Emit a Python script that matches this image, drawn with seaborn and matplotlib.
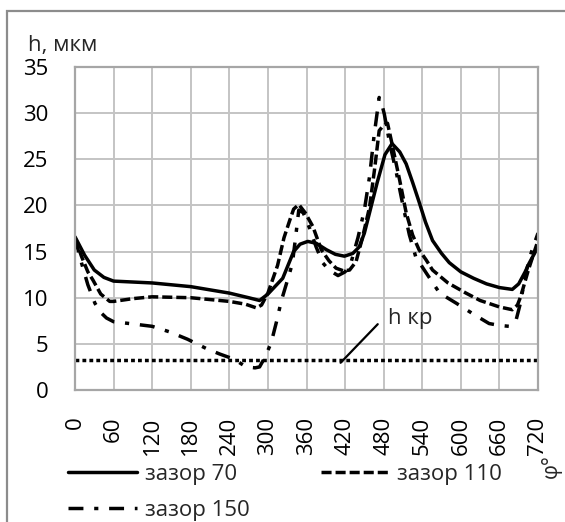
import matplotlib
matplotlib.use("Agg")
import matplotlib.pyplot as plt
import seaborn as sns
from matplotlib.patches import Rectangle

# ---- data ----
phi_70 = [0, 15, 30, 45, 60, 120, 180, 240, 270, 287, 300, 323, 340, 350, 362, 375, 391, 405,
          419, 432, 442, 450, 458, 470, 482, 493, 505, 515, 525, 535, 545, 556, 570, 582, 600,
          620, 640, 660, 680, 690, 700, 706, 720]
h_70 = [16.6, 14.6, 13.0, 12.2, 11.8, 11.6, 11.2, 10.5, 10.0, 9.7, 10.4, 12.1, 15.0, 15.8, 16.1,
        15.9, 15.2, 14.7, 14.5, 14.8, 15.5, 17.0, 19.2, 22.5, 25.5, 26.7, 25.8, 24.5, 22.5, 20.4,
        18.2, 16.2, 14.8, 13.8, 12.8, 12.1, 11.5, 11.1, 10.9, 11.5, 12.8, 13.7, 15.5]

phi_110 = [0, 10, 20, 28, 40, 54, 60, 90, 120, 180, 240, 265, 282, 290, 300, 315, 325, 334, 340,
           348, 358, 370, 383, 395, 406, 418, 427, 437, 447, 458, 466, 473, 480, 486, 492, 498,
           505, 515, 525, 535, 546, 556, 580, 608, 630, 660, 680, 688, 693, 705, 720]
h_110 = [16.5, 14.5, 12.8, 11.9, 10.4, 9.6, 9.6, 9.9, 10.1, 10.0, 9.6, 9.3, 8.9, 9.2, 10.5, 13.5,
         16.5, 18.4, 19.6, 20.1, 19.2, 17.7, 15.2, 14.0, 13.2, 12.9, 13.0, 13.9, 16.5, 19.8, 24.0,
         28.1, 28.7, 28.9, 27.0, 25.0, 22.7, 19.2, 16.8, 15.2, 14.1, 13.0, 11.6, 10.5, 9.7, 9.0,
         8.7, 9.2, 10.1, 13.0, 16.2]

phi_150 = [0, 10, 20, 31, 40, 49, 60, 85, 120, 147, 175, 204, 225, 241, 255, 266, 280, 287, 295,
           305, 313, 321, 330, 338, 343, 348, 355, 365, 375, 385, 395, 409, 420, 430, 440, 450,
           458, 465, 473, 477, 481, 490, 499, 510, 520, 530, 546, 567, 593, 620, 644, 660, 675,
           686, 693, 701, 710, 720]
h_150 = [16.5, 13.8, 11.4, 9.4, 8.4, 7.8, 7.4, 7.2, 6.9, 6.3, 5.5, 4.5, 3.9, 3.5, 3.0, 2.5, 2.4,
         2.5, 3.5, 5.1, 7.3, 9.7, 11.8, 13.7, 16.5, 19.5, 19.2, 17.5, 15.5, 13.8, 13.0, 12.4,
         12.8, 14.0, 16.5, 19.5, 23.1, 27.5, 31.7, 31.0, 29.9, 26.5, 23.8, 20.0, 16.8, 14.4,
         12.7, 10.5, 9.4, 8.2, 7.2, 7.0, 6.9, 7.6, 9.5, 12.7, 15.0, 17.0]

h_kr = 3.2
x_ticks = [0, 60, 120, 180, 240, 300, 360, 420, 480, 540, 600, 660, 720]
y_ticks = [0, 5, 10, 15, 20, 25, 30, 35]
series_labels = ["зазор 70", "зазор 110", "зазор 150"]

# ---- figure ----
sns.set_theme(style="white")
plt.rcParams["font.family"] = ["Open Sans", "DejaVu Sans"]

W, H = 565, 522
fig = plt.figure(figsize=(W / 100, H / 100), dpi=100)
L, R, T, B = 75, 538, 67, 390
ax = fig.add_axes([L / W, 1 - B / H, (R - L) / W, (B - T) / H])

fs = 16
lw = 2.5
sns.lineplot(x=phi_70, y=h_70, ax=ax, color="black", linewidth=lw, estimator=None,
             sort=False, label=series_labels[0], linestyle="-")
sns.lineplot(x=phi_110, y=h_110, ax=ax, color="black", linewidth=lw, estimator=None,
             sort=False, label=series_labels[1], linestyle=(0, (2.9, 1.15)))
sns.lineplot(x=phi_150, y=h_150, ax=ax, color="black", linewidth=lw, estimator=None,
             sort=False, label=series_labels[2], linestyle=(0, (4.3, 3.1, 1.2, 3.1)))
ax.plot([0, 720], [h_kr, h_kr], color="black", linewidth=lw, linestyle=(0, (1.1, 0.9)))

ax.set_xlim(0, 720)
ax.set_ylim(0, 35)
ax.set_xticks(x_ticks)
ax.set_yticks(y_ticks)
ax.set_xticklabels([str(v) for v in x_ticks], rotation=90, va="top", ha="center")
ax.tick_params(axis="both", length=0, labelsize=fs, colors="black")
ax.tick_params(axis="y", pad=19)
ax.tick_params(axis="x", pad=19)
ax.grid(True, color="#c4c4c4", linewidth=1.4)
ax.set_axisbelow(True)
for s in ax.spines.values():
    s.set_visible(True)
    s.set_color("#a6a6a6")
    s.set_linewidth(1.6)
ax.set_xlabel("")
ax.set_ylabel("")

# annotation h кр
ax.annotate("h кр", xy=(413, 2.95), xytext=(486, 7.7), fontsize=fs, va="center", ha="left",
            arrowprops=dict(arrowstyle="-", color="black", linewidth=1.6,
                            shrinkA=0, shrinkB=0, relpos=(-0.22, 0.25)))

# legend
handles, labels = ax.get_legend_handles_labels()
ax.get_legend().remove()
order = [0, 2, 1]
fig.legend([handles[i] for i in order], [labels[i] for i in order], ncol=2,
           loc="upper left", bbox_to_anchor=(68 / W, 1 - 464 / H), frameon=False,
           fontsize=fs, handlelength=3.1, handletextpad=0.35, columnspacing=3.2,
           labelspacing=0.68, borderaxespad=0, borderpad=0)

# axis titles
fig.text(28 / W, 1 - 45 / H, "h, мкм", fontsize=fs, ha="left", va="center")
fig.text(551 / W, 1 - 466 / H, "φ°", fontsize=fs - 1, ha="center", va="center", rotation=90)

# outer chart border (extends beyond image)
fig.add_artist(Rectangle((7 / W, -0.2), 1.2, 1.2 - 11 / H, transform=fig.transFigure,
                         fill=False, edgecolor="#8c8c8c", linewidth=1.6, clip_on=False))

fig.savefig("out.png", dpi=100)
